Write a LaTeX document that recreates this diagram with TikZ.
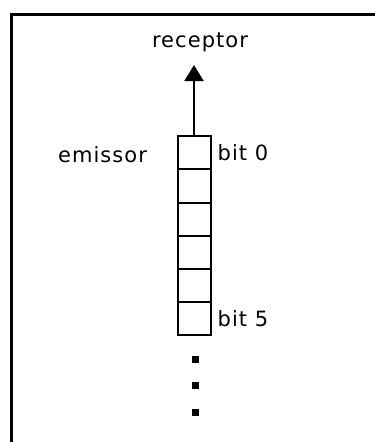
\documentclass[tikz,border=0pt]{standalone}
\usepackage{fontspec}
\setmainfont{DejaVu Sans}[LetterSpace=5]
\usepackage{tikz}
\usetikzlibrary{shapes,positioning,calc}
\usetikzlibrary{arrows.meta}
\tikzstyle{celula} = [rectangle, minimum width=33pt, minimum height=33.2pt, inner sep=0pt, draw=black, line width=2pt]
\tikzstyle{ponto} = [rectangle, fill=black, minimum size=7pt, inner sep=0pt]
\tikzstyle{rotulo} = [font=\fontsize{21}{25}\selectfont, inner sep=0pt]
\tikzstyle{arrow} = [line width=2pt,-{Triangle[length=16pt,width=19pt]}]

\begin{document}
\begin{tikzpicture}[x=1pt,y=-1pt]
					\useasboundingbox (0,0) rectangle (375,442);
					% moldura
					\draw[line width=3pt] (11,442) -- (11,14) -- (375,14);
					% registo de bits
					\foreach \i in {0,...,5}
						\node (b\i) at (194,152.7+33.2*\i) [celula] {};
					\node[rotulo] (rec) at (200,42.5) {receptor};
					\coordinate (tip) at (194,65);
					\draw[arrow] (b0.north) -- (tip);
					\node[rotulo] (emi) at (102.5,155) {emissor};
					\node[rotulo, right=6pt of b0] (bit0) {bit 0};
					\node[rotulo, right=6pt of b5] (bit5) {bit 5};
					\foreach \j in {0,1,2}
						\node (d\j) at (195,359+26.5*\j) [ponto] {};
				\end{tikzpicture}
\end{document}
